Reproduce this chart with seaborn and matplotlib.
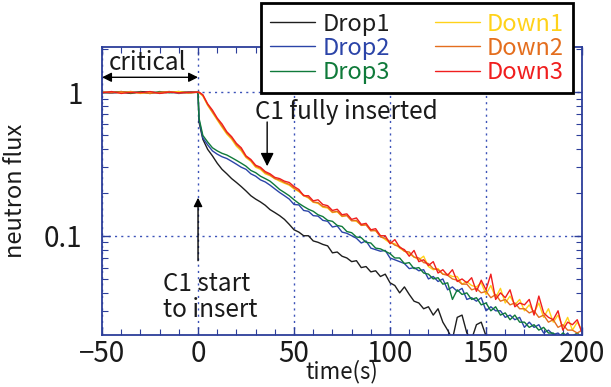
import matplotlib
matplotlib.use("Agg")
import matplotlib.pyplot as plt
from matplotlib.lines import Line2D
from matplotlib.ticker import FixedLocator, MultipleLocator, NullFormatter
import pandas as pd
import seaborn as sns

# Sample times (s)
time_s = [
    -50, -45, -40, -35, -30, -25, -20, -15, -10, -5,
    0, 0.5, 2.5, 5, 7.5, 10, 12.5, 15, 17.5, 20,
    22.5, 25, 27.5, 30, 32.5, 35, 37.5, 40, 42.5, 45,
    47.5, 50, 52.5, 55, 57.5, 60, 62.5, 65, 67.5, 70,
    72.5, 75, 77.5, 80, 82.5, 85, 87.5, 90, 92.5, 95,
    97.5, 100, 102.5, 105, 107.5, 110, 112.5, 115, 117.5, 120,
    122.5, 125, 127.5, 130, 132.5, 135, 137.5, 140, 142.5, 145,
    147.5, 150, 152.5, 155, 157.5, 160, 162.5, 165, 167.5, 170,
    172.5, 175, 177.5, 180, 182.5, 185, 187.5, 190, 192.5, 195,
    197.5, 200,
]

drop1 = [
    1.00, 0.99, 1.00, 0.98, 1.01, 1.00, 0.99, 1.00, 1.01, 0.99,
    1.00, 0.62, 0.47, 0.40, 0.36, 0.32, 0.29, 0.27, 0.25, 0.235,
    0.22, 0.205, 0.19, 0.18, 0.172, 0.163, 0.152, 0.145, 0.138, 0.13,
    0.12, 0.11, 0.106, 0.1, 0.1, 0.092, 0.09, 0.087, 0.085, 0.076,
    0.077, 0.072, 0.07, 0.066, 0.067, 0.06, 0.061, 0.056, 0.057, 0.052,
    0.054, 0.047, 0.045, 0.04, 0.044, 0.039, 0.035, 0.034, 0.031, 0.032,
    0.028, 0.031, 0.025, 0.022, 0.019, 0.027, 0.028, 0.021, 0.019, 0.024,
    0.025, 0.02, 0.018, 0.017, 0.016, 0.016, 0.015, 0.014, 0.014, 0.013,
    0.013, 0.012, 0.012, 0.012, 0.011, 0.011, 0.011, 0.010, 0.010, 0.010,
    0.010, 0.010,
]

drop2 = [
    1.00, 0.99, 1.00, 1.01, 0.99, 1.00, 0.99, 1.01, 0.98, 1.00,
    1.00, 0.64, 0.48, 0.43, 0.39, 0.37, 0.355, 0.345, 0.33, 0.315,
    0.30, 0.29, 0.27, 0.26, 0.245, 0.237, 0.225, 0.212, 0.2, 0.19,
    0.18, 0.165, 0.164, 0.15, 0.148, 0.138, 0.137, 0.128, 0.126, 0.115,
    0.117, 0.106, 0.104, 0.1, 0.096, 0.089, 0.092, 0.082, 0.08, 0.078,
    0.079, 0.07, 0.068, 0.066, 0.064, 0.059, 0.06, 0.057, 0.058, 0.05,
    0.052, 0.048, 0.05, 0.042, 0.044, 0.041, 0.043, 0.036, 0.037, 0.035,
    0.037, 0.03, 0.032, 0.03, 0.03, 0.027, 0.028, 0.026, 0.027, 0.023,
    0.025, 0.023, 0.024, 0.021, 0.022, 0.0205, 0.021, 0.0195, 0.021, 0.019,
    0.02, 0.019,
]

drop3 = [
    0.99, 1.00, 1.01, 0.99, 1.00, 0.98, 1.01, 0.99, 1.00, 1.00,
    1.00, 0.66, 0.50, 0.45, 0.41, 0.39, 0.375, 0.365, 0.35, 0.335,
    0.32, 0.305, 0.285, 0.275, 0.26, 0.25, 0.24, 0.225, 0.21, 0.2,
    0.19, 0.178, 0.168, 0.16, 0.153, 0.148, 0.14, 0.136, 0.128, 0.126,
    0.118, 0.116, 0.107, 0.105, 0.098, 0.097, 0.09, 0.089, 0.082, 0.081,
    0.078, 0.075, 0.07, 0.07, 0.064, 0.065, 0.059, 0.06, 0.055, 0.054,
    0.05, 0.051, 0.046, 0.047, 0.036, 0.042, 0.039, 0.04, 0.036, 0.037,
    0.033, 0.034, 0.03, 0.032, 0.028, 0.029, 0.026, 0.028, 0.025, 0.025,
    0.023, 0.024, 0.022, 0.023, 0.021, 0.021, 0.0195, 0.021, 0.02, 0.02,
    0.021, 0.0195,
]

down1 = [
    1.00, 1.00, 0.99, 1.01, 0.98, 1.00, 0.99, 1.00, 1.01, 0.99,
    1.00, 0.99, 0.94, 0.81, 0.72, 0.64, 0.57, 0.51, 0.47, 0.42,
    0.39, 0.35, 0.33, 0.30, 0.29, 0.27, 0.262, 0.25, 0.24, 0.232,
    0.225, 0.212, 0.203, 0.19, 0.183, 0.171, 0.168, 0.158, 0.156, 0.145,
    0.147, 0.136, 0.139, 0.128, 0.126, 0.119, 0.12, 0.11, 0.108, 0.1,
    0.094, 0.089, 0.088, 0.082, 0.078, 0.075, 0.071, 0.068, 0.072, 0.061,
    0.058, 0.059, 0.054, 0.054, 0.052, 0.052, 0.046, 0.048, 0.045, 0.044,
    0.047, 0.039, 0.045, 0.037, 0.043, 0.034, 0.038, 0.033, 0.036, 0.03,
    0.033, 0.029, 0.034, 0.027, 0.031, 0.025, 0.028, 0.023, 0.027, 0.022,
    0.025, 0.022,
]

down2 = [
    1.00, 0.99, 1.01, 0.99, 1.00, 0.98, 1.00, 1.01, 0.99, 0.99,
    1.00, 1.00, 0.95, 0.82, 0.73, 0.65, 0.58, 0.52, 0.48, 0.43,
    0.40, 0.355, 0.335, 0.305, 0.295, 0.275, 0.265, 0.25, 0.245, 0.235,
    0.228, 0.215, 0.205, 0.192, 0.185, 0.172, 0.17, 0.16, 0.158, 0.146,
    0.148, 0.137, 0.138, 0.127, 0.128, 0.118, 0.119, 0.108, 0.109, 0.098,
    0.096, 0.091, 0.086, 0.084, 0.078, 0.077, 0.071, 0.07, 0.065, 0.064,
    0.059, 0.058, 0.054, 0.053, 0.05, 0.049, 0.046, 0.046, 0.042, 0.043,
    0.04, 0.041, 0.037, 0.039, 0.035, 0.036, 0.033, 0.034, 0.031, 0.031,
    0.029, 0.03, 0.027, 0.028, 0.025, 0.026, 0.023, 0.024, 0.022, 0.022,
    0.021, 0.022,
]

down3 = [
    0.99, 1.01, 0.98, 1.00, 0.99, 1.01, 0.98, 1.00, 0.99, 1.00,
    1.00, 1.00, 0.96, 0.83, 0.75, 0.66, 0.60, 0.53, 0.49, 0.44,
    0.41, 0.36, 0.34, 0.31, 0.30, 0.28, 0.27, 0.255, 0.25, 0.24,
    0.235, 0.22, 0.21, 0.19, 0.19, 0.175, 0.178, 0.165, 0.162, 0.15,
    0.153, 0.14, 0.142, 0.13, 0.133, 0.12, 0.122, 0.11, 0.112, 0.10,
    0.1, 0.088, 0.094, 0.083, 0.08, 0.072, 0.079, 0.066, 0.068, 0.062,
    0.066, 0.055, 0.058, 0.053, 0.058, 0.048, 0.05, 0.047, 0.051, 0.041,
    0.049, 0.042, 0.054, 0.036, 0.04, 0.037, 0.042, 0.032, 0.034, 0.033,
    0.036, 0.028, 0.038, 0.029, 0.027, 0.026, 0.03, 0.022, 0.025, 0.024,
    0.026, 0.021,
]

runs = ["Drop1", "Drop2", "Drop3", "Down1", "Down2", "Down3"]
colors = {
    "Drop1": "#1e1e1e",
    "Drop2": "#2b44a8",
    "Drop3": "#0f7a3a",
    "Down1": "#ffd21a",
    "Down2": "#e46e1e",
    "Down3": "#f01e1e",
}

df = pd.DataFrame({
    "time": time_s,
    "Drop1": drop1, "Drop2": drop2, "Drop3": drop3,
    "Down1": down1, "Down2": down2, "Down3": down3,
}).melt(id_vars="time", var_name="run", value_name="flux")

sns.set_theme(style="ticks")
plt.rcParams["font.family"] = ["Noto Sans CJK JP", "DejaVu Sans"]
plt.rcParams["axes.unicode_minus"] = True

axis_blue = "#2c3e9a"
grid_blue = "#3c52b8"
text_col = "#1a1a1a"

fig = plt.figure(figsize=(6.11, 3.87), dpi=100)
ax = fig.add_axes([0.167, 0.134, 0.7856, 0.7442])

sns.lineplot(
    data=df, x="time", y="flux", hue="run", hue_order=runs,
    palette=colors, estimator=None, sort=False, lw=1, legend=False, ax=ax,
)

ax.set_yscale("log")
ax.set_xlim(-50, 200)
ax.set_ylim(0.0203, 2.06)

# ticks
ax.xaxis.set_major_locator(MultipleLocator(50))
ax.xaxis.set_minor_locator(MultipleLocator(10))
ax.yaxis.set_major_locator(FixedLocator([0.1, 1]))
ax.set_yticklabels(["0.1", "1"])
ax.yaxis.set_minor_locator(FixedLocator(
    [0.02, 0.03, 0.04, 0.05, 0.06, 0.07, 0.08, 0.09,
     0.2, 0.3, 0.4, 0.5, 0.6, 0.7, 0.8, 0.9, 2]))
ax.yaxis.set_minor_formatter(NullFormatter())

ax.tick_params(which="both", direction="in", top=True, right=True,
               color=axis_blue, labelcolor=text_col, labelsize=20)
ax.tick_params(axis="x", which="major", length=6, width=1, pad=3)
ax.tick_params(axis="y", which="major", length=6, width=1, pad=14)
ax.tick_params(which="minor", length=4, width=0.8)
for sp in ax.spines.values():
    sp.set_color(axis_blue)
    sp.set_linewidth(1.3)

ax.grid(True, which="major", color=grid_blue, linestyle=(0, (1.5, 3)), lw=1)
ax.set_axisbelow(True)

ax.set_xlabel("time(s)", fontsize=16, color=text_col, labelpad=-7)
ax.set_ylabel("neutron flux", fontsize=17, color=text_col, labelpad=12)

# annotations
ax.annotate("", xy=(-50, 1.27), xytext=(0, 1.27),
            arrowprops=dict(arrowstyle="<|-|>", color="black", lw=1,
                            mutation_scale=14, shrinkA=0, shrinkB=0))
ax.text(-26.5, 1.6, "critical", fontsize=17.5, color=text_col,
        ha="center", va="center")

ax.text(29.5, 0.725, "C1 fully inserted", fontsize=17.5, color=text_col,
        ha="left", va="center")
ax.annotate("", xy=(36, 0.305), xytext=(36, 0.62),
            arrowprops=dict(arrowstyle="-|>", color="black", lw=1,
                            mutation_scale=20, shrinkA=0, shrinkB=0))

ax.text(-18.2, 0.0374, "C1 start\nto insert", fontsize=17.5, color=text_col,
        ha="left", va="center", linespacing=1.0)
ax.annotate("", xy=(0, 0.184), xytext=(0, 0.067),
            arrowprops=dict(arrowstyle="-|>", color="black", lw=1,
                            mutation_scale=13, shrinkA=0, shrinkB=0))

# legend
handles = [Line2D([], [], color=colors[r], lw=1) for r in runs]
leg = fig.legend(
    handles, runs, ncol=2, loc="upper right",
    bbox_to_anchor=(0.938, 0.992), bbox_transform=fig.transFigure,
    fontsize=17, frameon=True, fancybox=False, framealpha=1,
    handlelength=1.9, handletextpad=0.3, columnspacing=1.9,
    labelspacing=0.05, borderpad=0.4, borderaxespad=0,
)
leg.get_frame().set_edgecolor("black")
leg.get_frame().set_linewidth(2)
for txt, r in zip(leg.get_texts(), runs):
    txt.set_color(colors[r])

fig.savefig("out.png", dpi=100)
plt.close(fig)
